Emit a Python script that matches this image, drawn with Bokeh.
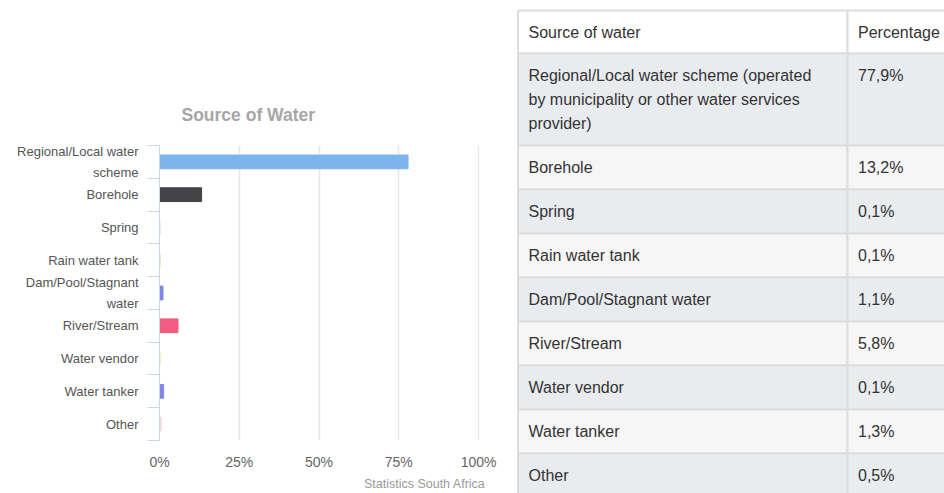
import numpy as np
from bokeh.plotting import figure
from bokeh.layouts import row
from bokeh.models import Range1d, FixedTicker, PrintfTickFormatter, Title, ColumnDataSource
from bokeh.core.properties import value
from bokeh.embed import file_html
from bokeh.resources import INLINE

# ---------------- data ----------------
chart_labels = ["Regional/Local water\nscheme", "Borehole", "Spring", "Rain water tank",
                "Dam/Pool/Stagnant\nwater", "River/Stream", "Water vendor", "Water tanker", "Other"]
table_labels = ["Regional/Local water scheme (operated\nby municipality or other water services\nprovider)",
                "Borehole", "Spring", "Rain water tank", "Dam/Pool/Stagnant water",
                "River/Stream", "Water vendor", "Water tanker", "Other"]
percentages = [77.9, 13.2, 0.1, 0.1, 1.1, 5.8, 0.1, 1.3, 0.5]
bar_colors = ["#7cb5ec", "#434348", "#90ed7d", "#f7a35c", "#8085e9", "#f15c80", "#e4d354", "#8085e9", "#f7d6dd"]
x_ticks = [0, 25, 50, 75, 100]
header = ["Source of water", "Percentage"]

FONT = "Liberation Sans"
n = len(chart_labels)
pos = np.arange(n) + 0.5

# ---------------- bar chart ----------------
p = figure(width=515, height=493, output_backend="svg", toolbar_location=None,
           x_range=Range1d(0, 100.3), y_range=Range1d(n, 0),
           min_border_left=159, min_border_right=36, min_border_top=145, min_border_bottom=50)
p.frame_align = False
p.outline_line_color = None
p.background_fill_color = "white"
p.border_fill_color = "white"

src = ColumnDataSource(dict(y=pos, right=percentages, color=bar_colors))
p.hbar(y="y", left=0, right="right", height=0.42, color="color", source=src)

# y axis (categories)
ya = p.yaxis[0]
ya.ticker = FixedTicker(ticks=list(pos), minor_ticks=list(np.arange(n + 1)))
ya.major_label_overrides = {float(v): lab for v, lab in zip(pos, chart_labels)}
ya.major_tick_out = 0
ya.major_tick_in = 0
ya.minor_tick_out = 12
ya.minor_tick_in = 0
ya.minor_tick_line_color = "#ccd6eb"
ya.axis_line_color = "#ccd6eb"
ya.axis_line_width = 1
ya.major_label_text_font = FONT
ya.major_label_text_font_size = "13px"
ya.major_label_text_color = "#555555"
ya.major_label_text_line_height = 1.4
ya.major_label_standoff = 9
p.ygrid.visible = False

# x axis (values)
xa = p.xaxis[0]
xa.ticker = FixedTicker(ticks=x_ticks)
xa.formatter = PrintfTickFormatter(format="%d%%")
xa.axis_line_color = None
xa.major_tick_line_color = None
xa.minor_tick_line_color = None
xa.major_label_text_font = FONT
xa.major_label_text_font_size = "14px"
xa.major_label_text_color = "#666666"
xa.major_label_standoff = 7
p.xgrid.ticker = FixedTicker(ticks=x_ticks)
p.xgrid.grid_line_color = "#e6e6e6"
p.xgrid.grid_line_width = 1.5

p.add_layout(Title(text="Statistics South Africa", align="right", offset=-6, standoff=5,
                   text_font=FONT, text_font_size="12.5px", text_font_style="normal",
                   text_color="#9a9a9a"), "below")
p.add_layout(Title(text="Source of Water", align="left", offset=22, standoff=41,
                   text_font=FONT, text_font_size="17.5px", text_font_style="bold",
                   text_color="#a6a6a6"), "above")

# ---------------- table ----------------
TW, TH = 429, 493
t = figure(width=TW, height=TH, output_backend="svg", toolbar_location=None,
           x_range=Range1d(0, TW), y_range=Range1d(TH, 0),
           min_border=0)
t.frame_align = False
t.axis.visible = False
t.grid.visible = False
t.outline_line_color = None
t.background_fill_color = "white"
t.border_fill_color = "white"

top0 = 10
header_h = 43
row_h = [92] + [44] * (n - 1)
tops = np.concatenate([[top0], top0 + header_h + np.concatenate([[0], np.cumsum(row_h)[:-1]])])
bottoms = np.concatenate([[top0 + header_h], top0 + header_h + np.cumsum(row_h)])
fills = ["#ffffff"] + ["#e9ecef" if i % 2 == 0 else "#f6f6f6" for i in range(n)]
col_x = [2.5, 332, 470]

for c in range(2):
    t.quad(left=col_x[c], right=col_x[c + 1], top=tops, bottom=bottoms,
           fill_color=fills, line_color="#dddddd", line_width=2)

texts_x, texts_y, texts = [], [], []
cells = [header] + [[lab, f"{v:.1f}".replace(".", ",") + "%"] for lab, v in zip(table_labels, percentages)]
for r, (tp, cell) in enumerate(zip(tops, cells)):
    for c, txt in enumerate(cell):
        for k, line in enumerate(txt.split("\n")):
            texts_x.append(col_x[c] + 10.5)
            texts_y.append(tp + 22 + 24 * k)
            texts.append(line)
t.text(x=texts_x, y=texts_y, text=texts, text_font=value(FONT), text_font_size="16px",
       text_color="#333333", text_baseline="middle", text_align="left")

layout = row(p, t)
open("out.html", "w").write(file_html(layout, INLINE))
